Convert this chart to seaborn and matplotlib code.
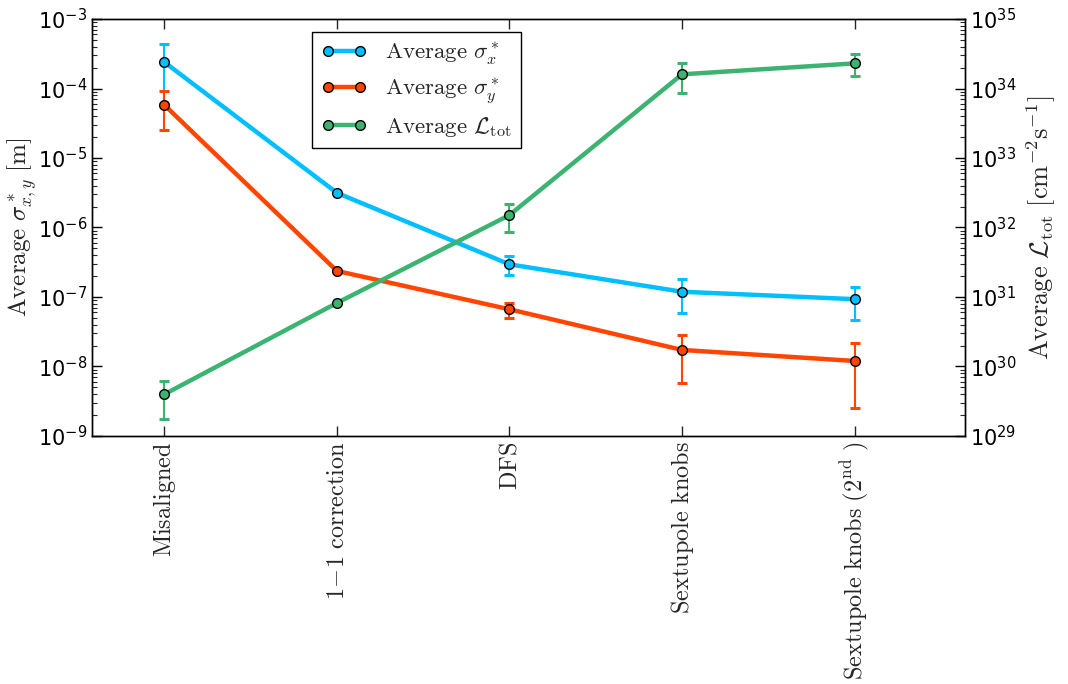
import numpy as np
import pandas as pd
import matplotlib
matplotlib.use("Agg")
import matplotlib.pyplot as plt
import seaborn as sns
from matplotlib.lines import Line2D

# Data
stages = ["Misaligned", "1-1 correction", "DFS", "Sextupole knobs", "Sextupole knobs (2nd)"]
stage_labels = [r"$\mathrm{Misaligned}$", r"$\mathrm{1\!-\!1\ correction}$", r"$\mathrm{DFS}$",
                r"$\mathrm{Sextupole\ knobs}$", r"$\mathrm{Sextupole\ knobs\ (2^{nd}\ )}$"]
sigma_x = [2.4e-4, 3.15e-6, 2.95e-7, 1.19e-7, 9.3e-8]
sigma_x_err_lo = [1.8e-4, 0.0, 0.9e-7, 0.6e-7, 4.6e-8]
sigma_x_err_hi = [2.0e-4, 0.0, 0.9e-7, 0.6e-7, 4.6e-8]
sigma_y = [5.8e-5, 2.37e-7, 6.65e-8, 1.73e-8, 1.2e-8]
sigma_y_err = [3.3e-5, 0.0, 1.6e-8, 1.15e-8, 0.95e-8]
lumi = [3.98e29, 8.2e30, 1.51e32, 1.6e34, 2.3e34]
lumi_err = [2.2e29, 0.0, 0.66e32, 0.75e34, 0.8e34]

blue = "#00BFFF"
orange = "#FF4500"
green = "#3CB371"

df = pd.DataFrame({"pos": np.arange(len(stages)), "stage": stages,
                   "sx": sigma_x, "sy": sigma_y, "lumi": lumi})

sns.set_style("white")
plt.rcParams["axes.unicode_minus"] = False

fig = plt.figure(figsize=(10.68, 6.84), dpi=100)
ax = fig.add_axes([0.086, 0.3626, 0.8176, 0.6096])
ax2 = ax.twinx()

def draw(axis, col, err, color):
    sns.lineplot(data=df, x="pos", y=col, ax=axis, color=color, lw=3.2,
                 marker="o", markersize=7, markeredgecolor="black",
                 markeredgewidth=1.0, zorder=3)
    axis.errorbar(df["pos"], df[col], yerr=err, fmt="none", ecolor=color,
                  elinewidth=1.5, capsize=3.5, capthick=2.2, zorder=2)

draw(ax, "sx", [sigma_x_err_lo, sigma_x_err_hi], blue)
draw(ax, "sy", sigma_y_err, orange)
draw(ax2, "lumi", lumi_err, green)

ax.set_yscale("log")
ax2.set_yscale("log")
ax.set_ylim(1e-9, 1e-3)
ax2.set_ylim(1e29, 1e35)
ax.set_xlim(-0.42, 4.64)

ax.set_xticks(df["pos"])
ax.set_xticklabels(stage_labels, rotation=90, fontsize=17.5)
for t in ax.get_xticklabels():
    t.set_math_fontfamily("cm")

ax.set_xlabel("")
ax2.set_xlabel("")
ax.set_ylabel(r"$\mathrm{Average}\ \sigma^*_{x,y}\ [\mathrm{m}]$", fontsize=18,
              math_fontfamily="cm", labelpad=-1)
ax2.set_ylabel(r"$\mathrm{Average}\ \mathcal{L}_{\mathrm{tot}}\ [\mathrm{cm}^{-2}\mathrm{s}^{-1}]$",
               fontsize=19, math_fontfamily="cm", labelpad=6)

for a in (ax, ax2):
    for s in a.spines.values():
        s.set_color("black")
        s.set_linewidth(1.0)
    a.tick_params(axis="y", which="major", direction="in", length=7, width=1,
                  labelsize=15, colors="black")
    a.tick_params(axis="y", which="minor", direction="in", length=3.5, width=0.8)
ax.tick_params(axis="x", which="major", direction="in", length=7, width=1,
               top=True, bottom=True, pad=4)
ax.yaxis.set_ticks_position("left")
ax2.yaxis.set_ticks_position("right")

handles = [
    Line2D([], [], color=blue, lw=3.2, marker="o", markersize=7, markeredgecolor="black"),
    Line2D([], [], color=orange, lw=3.2, marker="o", markersize=7, markeredgecolor="black"),
    Line2D([], [], color=green, lw=3.2, marker="o", markersize=7, markeredgecolor="black"),
]
names = [r"$\mathrm{Average}\ \sigma^*_x$", r"$\mathrm{Average}\ \sigma^*_y$",
         r"$\mathrm{Average}\ \mathcal{L}_{\mathrm{tot}}$"]
leg = ax.legend(handles, names, loc="upper left", bbox_to_anchor=(0.252, 0.97),
                borderaxespad=0, fontsize=16.5, numpoints=2, handlelength=2.0,
                handletextpad=0.8, labelspacing=0.4, fancybox=False,
                framealpha=1, edgecolor="black")
leg.get_frame().set_linewidth(1.0)
for t in leg.get_texts():
    t.set_math_fontfamily("cm")

fig.savefig("out.png", dpi=100)
